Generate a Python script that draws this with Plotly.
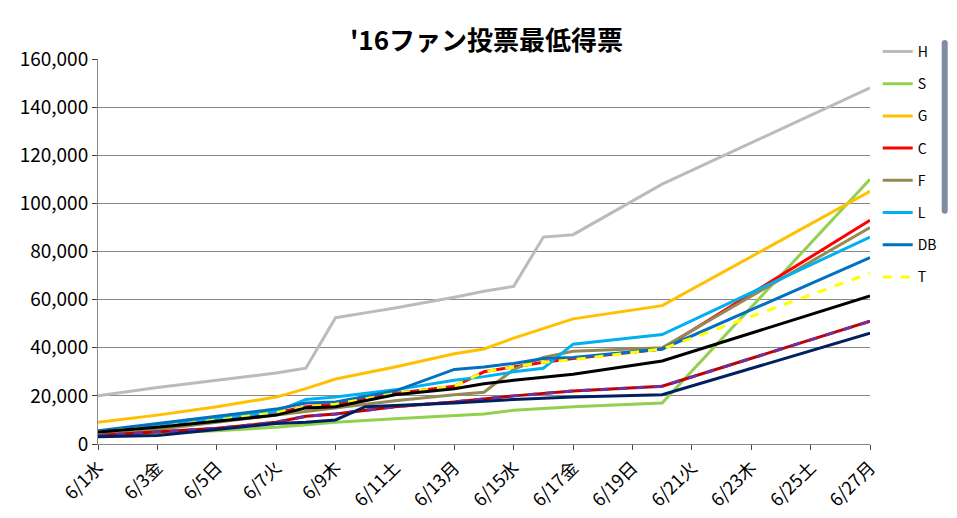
import plotly.graph_objects as go

tick_days = list(range(1, 28, 2))
tick_labels = ["6/1水","6/3金","6/5日","6/7火","6/9木","6/11土","6/13月","6/15水","6/17金","6/19日","6/21火","6/23木","6/25土","6/27月"]

H_x = [1,3,5,7,8,9,10,11,13,14,15,16,17,20,27]
H_y = [20000,23500,26500,29500,31500,52500,54500,56500,61000,63500,65500,86000,87000,108000,148000]
S_x = [1,3,5,7,8,9,11,13,14,15,17,20,27]
S_y = [3500,4500,5500,7000,8000,9000,10500,12000,12500,14000,15500,17000,110000]
G_x = [1,3,5,6,7,8,9,10,11,13,14,15,16,17,20,27]
G_y = [9000,12000,15500,17500,19500,23000,27000,29500,32000,37500,39500,44000,48000,52000,57500,105000]
C_x = [1,3,5,7,8,9,11,13,14,15,16,17,20,27]
C_y = [5000,7500,10000,13000,15500,16500,21000,24000,30000,32000,34000,35500,39500,93000]
F_x = [1,3,5,7,9,11,13,14,15,16,17,20,27]
F_y = [4000,6000,9000,12000,15000,18000,20500,21500,31000,36000,38500,40000,90000]
L_x = [1,3,5,7,8,9,11,13,14,15,16,17,20,27]
L_y = [5000,7500,10500,13500,18500,19500,22500,26500,28000,30000,31500,41500,45500,86000]
DB_x = [1,3,5,7,8,9,11,13,14,15,16,17,20,27]
DB_y = [5500,8500,11500,14500,17000,17500,22000,31000,32000,33500,35500,36000,39500,77500]
T_x = [1,3,5,7,8,9,11,13,14,15,16,17,20,27]
T_y = [5000,7000,10000,13000,15500,16500,21000,24000,30000,32000,34000,35000,39500,71000]
M_x = [1,3,5,7,8,9,11,13,14,15,17,20,27]
M_y = [5000,7000,9500,12000,15000,15500,20500,23000,25000,26500,29000,34500,61500]
E_x = [1,3,5,7,8,9,11,13,15,17,20,27]
E_y = [3500,5000,6500,9000,11500,12500,15500,17500,20000,22000,24000,51000]
Bs_x = E_x
Bs_y = E_y
D_x = [1,3,5,7,8,9,10,13,15,17,20,27]
D_y = [3000,3500,6000,8500,9000,10000,15500,17000,18500,19500,20500,46000]

series = [
    ("H", H_x, H_y, "#BBBBBB", "solid", 3),
    ("S", S_x, S_y, "#92D050", "solid", 3),
    ("G", G_x, G_y, "#FFC000", "solid", 3),
    ("C", C_x, C_y, "#FF0000", "solid", 3),
    ("F", F_x, F_y, "#948A54", "solid", 3),
    ("L", L_x, L_y, "#00B0F0", "solid", 3),
    ("DB", DB_x, DB_y, "#0070C0", "solid", 3),
    ("T", T_x, T_y, "#FFFF00", "dash", 3),
    ("M", M_x, M_y, "#000000", "solid", 3),
    ("E", E_x, E_y, "#C00000", "solid", 3),
    ("Bs", Bs_x, Bs_y, "#7030A0", "dash", 3),
    ("D", D_x, D_y, "#002060", "solid", 3),
]

fig = go.Figure()
for name, xs, ys, col, dash, w in series:
    fig.add_trace(go.Scatter(x=xs, y=ys, name=name, mode="lines", legendgroup=name,
                             line=dict(color=col, dash=dash, width=w)))

fig.update_layout(
    width=957, height=518, paper_bgcolor="white", plot_bgcolor="white",
    margin=dict(l=68, r=95, t=51, b=82),
    title=dict(text="<b>'16ファン投票最低得票</b>", x=0.5, xanchor="center", y=0.955,
               font=dict(size=26, family="Noto Sans CJK JP", color="black")),
    font=dict(family="Noto Sans CJK JP", color="black"),
    legend=dict(x=1.01, y=1.06, xanchor="left", yanchor="top", font=dict(size=14),
                tracegroupgap=11, itemwidth=30, bgcolor="rgba(0,0,0,0)"),
    xaxis=dict(range=[1, 27], tickvals=tick_days, ticktext=tick_labels, tickangle=-45,
               showgrid=False, showline=True, linecolor="#888", ticks="outside",
               tickfont=dict(size=18), zeroline=False),
    yaxis=dict(range=[0, 160000], dtick=20000, tickformat=",", showgrid=True,
               gridcolor="#888", showline=True, linecolor="#888", ticks="outside",
               tickfont=dict(size=19), zeroline=False),
)
fig.write_html("out.html")
